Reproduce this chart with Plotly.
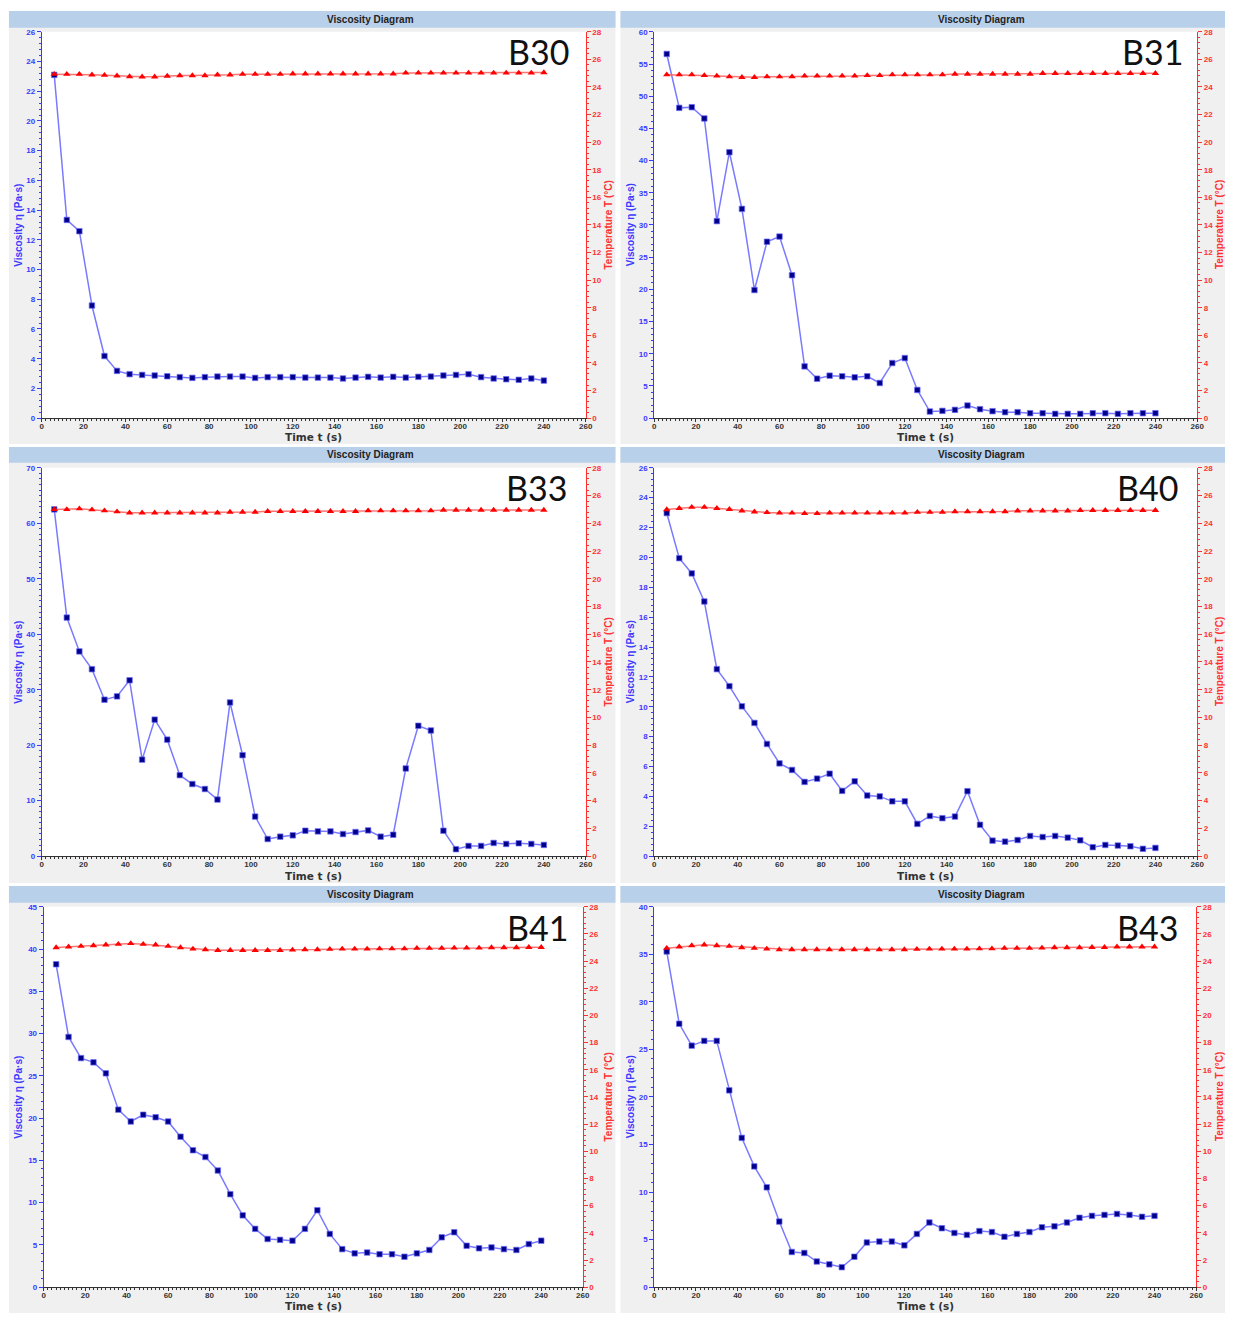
import plotly.graph_objects as go

# ---------------- data ----------------
time_s = [6, 12, 18, 24, 30, 36, 42, 48, 54, 60, 66, 72, 78, 84, 90, 96, 102, 108, 114, 120,
          126, 132, 138, 144, 150, 156, 162, 168, 174, 180, 186, 192, 198, 204, 210, 216, 222, 228, 234, 240]

samples = ["B30", "B31", "B33", "B40", "B41", "B43"]

visc_B30 = [23.1, 13.34, 12.58, 7.58, 4.18, 3.18, 2.96, 2.91, 2.87, 2.82,
            2.76, 2.71, 2.76, 2.80, 2.80, 2.80, 2.71, 2.76, 2.76, 2.76,
            2.73, 2.73, 2.73, 2.67, 2.73, 2.78, 2.73, 2.78, 2.73, 2.78,
            2.80, 2.87, 2.91, 2.96, 2.76, 2.67, 2.62, 2.58, 2.67, 2.53]
temp_B30 = [24.93, 24.93, 24.93, 24.88, 24.86, 24.81, 24.76, 24.74, 24.74, 24.79,
            24.83, 24.83, 24.83, 24.88, 24.88, 24.93, 24.93, 24.93, 24.93, 24.96,
            24.96, 24.96, 24.96, 24.96, 24.96, 24.96, 24.96, 24.96, 25.02, 25.02,
            25.02, 25.02, 25.02, 25.02, 25.02, 25.02, 25.02, 25.02, 25.02, 25.05]

visc_B31 = [56.56, 48.19, 48.29, 46.54, 30.6, 41.3, 32.5, 19.9, 27.4, 28.2,
            22.2, 8.04, 6.13, 6.6, 6.5, 6.34, 6.5, 5.46, 8.56, 9.33,
            4.38, 1.03, 1.13, 1.29, 1.96, 1.39, 1.08, 0.93, 0.93, 0.77,
            0.77, 0.67, 0.67, 0.67, 0.77, 0.77, 0.67, 0.77, 0.77, 0.77]
temp_B31 = [24.89, 24.89, 24.89, 24.84, 24.80, 24.75, 24.70, 24.70, 24.75, 24.75,
            24.75, 24.80, 24.80, 24.80, 24.80, 24.80, 24.84, 24.84, 24.89, 24.89,
            24.89, 24.89, 24.89, 24.94, 24.94, 24.94, 24.94, 24.94, 24.94, 24.94,
            24.99, 24.99, 24.99, 24.99, 24.99, 24.99, 24.99, 24.99, 24.99, 24.99]

visc_B33 = [62.5, 43.0, 36.9, 33.7, 28.2, 28.8, 31.7, 17.4, 24.6, 21.0,
            14.6, 13.0, 12.1, 10.2, 27.7, 18.2, 7.13, 3.09, 3.51, 3.75,
            4.58, 4.46, 4.46, 3.98, 4.34, 4.64, 3.51, 3.86, 15.8, 23.5,
            22.65, 4.58, 1.25, 1.84, 1.84, 2.38, 2.2, 2.32, 2.2, 2.02]
temp_B33 = [25.0, 25.0, 25.05, 24.98, 24.91, 24.84, 24.76, 24.76, 24.76, 24.76,
            24.76, 24.76, 24.76, 24.76, 24.81, 24.81, 24.81, 24.86, 24.86, 24.86,
            24.86, 24.86, 24.86, 24.86, 24.86, 24.91, 24.91, 24.91, 24.91, 24.91,
            24.91, 24.95, 24.95, 24.95, 24.95, 24.95, 24.95, 24.95, 24.95, 24.95]

visc_B40 = [22.97, 19.95, 18.93, 17.05, 12.52, 11.38, 10.03, 8.92, 7.51, 6.21,
            5.77, 4.97, 5.19, 5.52, 4.37, 5.01, 4.06, 4.0, 3.67, 3.67,
            2.16, 2.69, 2.54, 2.65, 4.35, 2.10, 1.04, 0.97, 1.08, 1.35,
            1.28, 1.35, 1.24, 1.06, 0.60, 0.75, 0.71, 0.66, 0.49, 0.55]
temp_B40 = [24.99, 25.08, 25.16, 25.16, 25.08, 25.01, 24.90, 24.83, 24.78, 24.75,
            24.75, 24.71, 24.71, 24.75, 24.75, 24.75, 24.75, 24.75, 24.75, 24.75,
            24.80, 24.80, 24.80, 24.85, 24.85, 24.85, 24.85, 24.85, 24.90, 24.90,
            24.90, 24.90, 24.90, 24.94, 24.94, 24.94, 24.94, 24.94, 24.94, 24.94]

visc_B41 = [38.2, 29.6, 27.1, 26.6, 25.3, 21.0, 19.6, 20.4, 20.1, 19.6,
            17.8, 16.2, 15.4, 13.8, 11.0, 8.5, 6.9, 5.7, 5.6, 5.5,
            6.9, 9.1, 6.3, 4.5, 4.0, 4.1, 3.9, 3.9, 3.6, 4.0,
            4.4, 5.9, 6.5, 4.9, 4.6, 4.7, 4.5, 4.4, 5.1, 5.5]
temp_B41 = [25.0, 25.05, 25.1, 25.15, 25.2, 25.25, 25.3, 25.25, 25.2, 25.1,
            25.0, 24.9, 24.85, 24.8, 24.8, 24.8, 24.8, 24.8, 24.8, 24.82,
            24.85, 24.85, 24.88, 24.9, 24.9, 24.9, 24.92, 24.92, 24.92, 24.95,
            24.95, 24.95, 24.97, 24.97, 24.97, 25.0, 25.0, 25.0, 25.02, 25.02]

visc_B43 = [35.3, 27.7, 25.4, 25.9, 25.9, 20.7, 15.7, 12.7, 10.5, 6.9,
            3.7, 3.6, 2.7, 2.4, 2.1, 3.2, 4.7, 4.8, 4.8, 4.4,
            5.6, 6.8, 6.2, 5.7, 5.5, 5.9, 5.8, 5.3, 5.6, 5.8,
            6.3, 6.4, 6.8, 7.3, 7.5, 7.6, 7.7, 7.6, 7.4, 7.5]
temp_B43 = [24.95, 25.05, 25.15, 25.2, 25.15, 25.1, 25.0, 24.95, 24.9, 24.85,
            24.85, 24.85, 24.85, 24.85, 24.85, 24.85, 24.85, 24.85, 24.85, 24.85,
            24.88, 24.9, 24.9, 24.9, 24.9, 24.92, 24.92, 24.95, 24.95, 24.95,
            24.97, 25.0, 25.0, 25.0, 25.02, 25.02, 25.05, 25.05, 25.05, 25.05]

visc_max = [26, 60, 70, 26, 45, 40]
visc_dtick = [2, 5, 10, 2, 5, 5]
visc_minor = [0.4, 1, 1, 0.4, 1, 1]
time_range = [0, 260]
temp_range = [0, 28]

visc_series = [visc_B30, visc_B31, visc_B33, visc_B40, visc_B41, visc_B43]
temp_series = [temp_B30, temp_B31, temp_B33, temp_B40, temp_B41, temp_B43]

# ---------------- layout geometry (pixels) ----------------
W, H = 1233, 1318
rows = [
    dict(top=7, bot=443, bar=24, pt=28, pb=417, title_y=15.5, xl_y=435.5, lab_y=48),
    dict(top=446, bot=885, bar=462, pt=467, pb=858, title_y=454, xl_y=877.5, lab_y=487),
    dict(top=888, bot=1318, bar=905, pt=909, pb=1292, title_y=896.5, xl_y=1311, lab_y=930),
]
cols = [
    dict(left=7, right=618, px0=[40, 40, 42], px1=[588, 588, 585], title_x=371,
         ytl_x=17, ytr_x=611, lab_x=[573, 571, 572]),
    dict(left=623, right=1232, px0=[657, 657, 657], px1=[1204, 1204, 1203], title_x=987,
         ytl_x=634, ytr_x=1227, lab_x=[1192, 1187, 1187]),
]


def fx(x):
    return x / W


def fy(y):
    return 1 - y / H


BLUE = "#3a3aff"
RED = "#ff3030"
GREY = "#333333"
TICKFONT = dict(family="Liberation Sans", size=8, weight="bold")

fig = go.Figure()
shapes = []
annotations = []
layout = {}

for i in range(6):
    r = rows[i // 2]
    c = cols[i % 2]
    ri = i // 2
    n = i + 1
    xname = "x" if n == 1 else f"x{n}"
    ylname = "y" if n == 1 else f"y{n}"
    yrname = f"y{n + 6}"
    x0, x1 = c["px0"][ri], c["px1"][ri]
    y0, y1 = r["pt"], r["pb"]

    shapes.append(dict(type="rect", xref="paper", yref="paper", layer="below",
                       x0=fx(c["left"]), x1=fx(c["right"]), y0=fy(r["bot"]), y1=fy(r["top"]),
                       fillcolor="#f0f0f0", line=dict(width=0)))
    shapes.append(dict(type="rect", xref="paper", yref="paper", layer="below",
                       x0=fx(c["left"]), x1=fx(c["right"]), y0=fy(r["bar"]), y1=fy(r["top"]),
                       fillcolor="#b9d0ea", line=dict(width=0)))
    shapes.append(dict(type="rect", xref="paper", yref="paper", layer="below",
                       x0=fx(x0), x1=fx(x1), y0=fy(y1), y1=fy(y0),
                       fillcolor="white", line=dict(width=0)))

    layout["xaxis" if n == 1 else f"xaxis{n}"] = dict(
        domain=[fx(x0), fx(x1)], anchor=ylname, range=time_range, dtick=20,
        showgrid=False, zeroline=False, showline=True, linecolor=GREY, linewidth=1,
        ticks="outside", ticklen=3, tickcolor=GREY, tickfont=dict(TICKFONT, color=GREY),
        ticklabelstandoff=-3,
        minor=dict(dtick=2, ticks="outside", ticklen=2, tickcolor=GREY),
    )
    layout["yaxis" if n == 1 else f"yaxis{n}"] = dict(
        domain=[fy(y1), fy(y0)], anchor=xname, range=[0, visc_max[i]], dtick=visc_dtick[i],
        showgrid=False, zeroline=False, showline=True, linecolor=BLUE, linewidth=1,
        ticks="outside", ticklen=4, tickcolor=BLUE, tickfont=dict(TICKFONT, color=BLUE),
        minor=dict(dtick=visc_minor[i], ticks="outside", ticklen=2, tickcolor=BLUE),
    )
    layout[f"yaxis{n + 6}"] = dict(
        overlaying=ylname, side="right", anchor=xname, range=temp_range, dtick=2,
        showgrid=False, zeroline=False, showline=True, linecolor=RED, linewidth=1,
        ticks="outside", ticklen=4, tickcolor=RED, tickfont=dict(TICKFONT, color=RED),
        minor=dict(dtick=0.4, ticks="outside", ticklen=2, tickcolor=RED),
    )

    fig.add_trace(go.Scatter(
        x=time_s, y=visc_series[i], xaxis=xname, yaxis=ylname, mode="lines+markers",
        line=dict(color="#7a7aff", width=1.5),
        marker=dict(symbol="square", size=5.5, color="#00008b",
                    line=dict(color="rgba(110,110,255,0.7)", width=1)),
        showlegend=False, cliponaxis=False))
    fig.add_trace(go.Scatter(
        x=time_s, y=temp_series[i], xaxis=xname, yaxis=yrname, mode="lines+markers",
        line=dict(color="rgba(255,90,90,0.85)", width=1.5),
        marker=dict(symbol="triangle-up", size=6.5, color="#ff0000"),
        showlegend=False, cliponaxis=False))

    cx = (x0 + x1) / 2
    cy = (y0 + y1) / 2
    annotations += [
        dict(text="<b>Viscosity Diagram</b>", x=fx(c["title_x"]), y=fy(r["title_y"]),
             xref="paper", yref="paper", showarrow=False, xanchor="center", yanchor="middle",
             font=dict(family="Liberation Sans", size=10, color="#222222")),
        dict(text="<b>Time t (s)</b>", x=fx(cx), y=fy(r["xl_y"]),
             xref="paper", yref="paper", showarrow=False, xanchor="center", yanchor="middle",
             font=dict(family="DejaVu Sans", size=10.5, color=GREY)),
        dict(text="<b>Viscosity η (Pa·s)</b>", x=fx(c["ytl_x"]), y=fy(cy), textangle=-90,
             xref="paper", yref="paper", showarrow=False, xanchor="center", yanchor="middle",
             font=dict(family="Liberation Sans", size=10, color=BLUE)),
        dict(text="<b>Temperature T (°C)</b>", x=fx(c["ytr_x"]), y=fy(cy), textangle=-90,
             xref="paper", yref="paper", showarrow=False, xanchor="center", yanchor="middle",
             font=dict(family="Liberation Sans", size=10, color=RED)),
        dict(text=samples[i], x=fx(c["lab_x"][ri]), y=fy(r["lab_y"]),
             xref="paper", yref="paper", showarrow=False, xanchor="right", yanchor="middle",
             font=dict(family="Lato", size=34, color="#111111")),
    ]

fig.update_layout(
    width=W, height=H, margin=dict(l=0, r=0, t=0, b=0),
    paper_bgcolor="white", plot_bgcolor="rgba(0,0,0,0)",
    shapes=shapes, annotations=annotations, showlegend=False,
    **layout,
)

fig.write_html(
    "out.html",
    config={"displayModeBar": False},
    post_script="document.body.style.margin='0';document.body.style.overflow='hidden';",
)
